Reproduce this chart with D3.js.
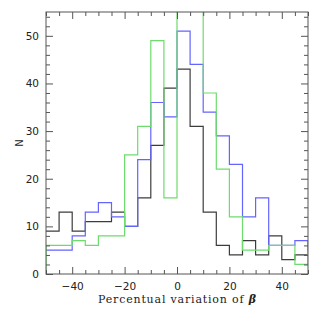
<!DOCTYPE html>
<html>
<head>
<meta charset="utf-8">
<script src="https://cdn.jsdelivr.net/npm/d3@7"></script>
<style>
  body { margin: 0; background: #fff; }
  svg { display: block; }
  .tick text { font-family: "DejaVu Sans", sans-serif; font-size: 10.5px; fill: #222; }
  .tick line { stroke: #555; }
</style>
</head>
<body>
<svg class="chart"></svg>
<script>
// bin left edges (one extra bin each side, clipped away by the frame)
var binStart = [-55, -50, -45, -40, -35, -30, -25, -20, -15, -10, -5, 0, 5, 10, 15, 20, 25, 30, 35, 40, 45, 50];
var binWidth = 5;

var blackCounts = [9, 9, 13, 9, 11, 11, 13, 10, 16, 27, 39, 43, 31, 13, 6, 4, 7, 4, 8, 3, 4, 4];
var blueCounts  = [5, 5, 5, 8, 13, 15, 12, 10, 24, 36, 33, 51, 44, 34, 29, 23, 12, 16, 6, 6, 7, 5];
var greenCounts = [0, 6, 6, 7, 6, 8, 8, 25, 31, 49, 16, 60, 60, 38, 22, 12, 5, 5, 6, 6, 2, 6];

var xMajor = [-40, -20, 0, 20, 40];
var xMinor = [-50, -45, -35, -30, -25, -15, -10, -5, 5, 10, 15, 25, 30, 35, 45, 50];
var yMajor = [0, 10, 20, 30, 40, 50];
var yMinor = [2, 4, 6, 8, 12, 14, 16, 18, 22, 24, 26, 28, 32, 34, 36, 38, 42, 44, 46, 48, 52, 54];

var width = 325, height = 316;
var margin = { left: 46, right: 17, top: 12, bottom: 42 };

var svg = d3.select(".chart")
    .attr("width", width)
    .attr("height", height);

var x = d3.scaleLinear().domain([-50, 50]).range([margin.left, width - margin.right]);
var y = d3.scaleLinear().domain([0, 55]).range([height - margin.bottom, margin.top]);

var plotLeft = x(-50), plotRight = x(50), plotTop = y(55), plotBottom = y(0);

svg.append("clipPath").attr("id", "plotclip")
  .append("rect")
    .attr("x", plotLeft).attr("y", plotTop)
    .attr("width", plotRight - plotLeft).attr("height", plotBottom - plotTop);

// histograms as steps
function stepPoints(counts) {
    var pts = binStart.map(function(b, i) { return [b, counts[i]]; });
    pts.push([binStart[binStart.length - 1] + binWidth, counts[counts.length - 1]]);
    return pts;
}

var line = d3.line()
    .x(function(d) { return x(d[0]); })
    .y(function(d) { return y(d[1]); })
    .curve(d3.curveStepAfter);

var series = [
    { counts: blackCounts, color: "#3c3c3c" },
    { counts: blueCounts, color: "#6464ff" },
    { counts: greenCounts, color: "#6ddc6d" }
];

var g = svg.append("g").attr("clip-path", "url(#plotclip)");
series.forEach(function(s) {
    g.append("path")
        .datum(stepPoints(s.counts))
        .attr("fill", "none")
        .attr("stroke", s.color)
        .attr("stroke-width", 1.2)
        .attr("d", line);
});

// axes, ticks pointing inwards on all four sides
function addAxis(axis, tx, ty) {
    var a = svg.append("g")
        .attr("transform", "translate(" + tx + "," + ty + ")")
        .call(axis);
    a.select(".domain").remove();
    return a;
}

var fmt = d3.format("d");

addAxis(d3.axisBottom(x).tickValues(xMajor).tickSize(-7).tickPadding(9).tickFormat(fmt), 0, plotBottom);
addAxis(d3.axisBottom(x).tickValues(xMinor).tickSize(-4).tickFormat(""), 0, plotBottom);
addAxis(d3.axisTop(x).tickValues(xMajor).tickSize(-7).tickFormat(""), 0, plotTop);
addAxis(d3.axisTop(x).tickValues(xMinor).tickSize(-4).tickFormat(""), 0, plotTop);

addAxis(d3.axisLeft(y).tickValues(yMajor).tickSize(-7).tickPadding(7).tickFormat(fmt), plotLeft, 0);
addAxis(d3.axisLeft(y).tickValues(yMinor).tickSize(-4).tickFormat(""), plotLeft, 0);
addAxis(d3.axisRight(y).tickValues(yMajor).tickSize(-7).tickFormat(""), plotRight, 0);
addAxis(d3.axisRight(y).tickValues(yMinor).tickSize(-4).tickFormat(""), plotRight, 0);

svg.append("rect")
    .attr("x", plotLeft).attr("y", plotTop)
    .attr("width", plotRight - plotLeft).attr("height", plotBottom - plotTop)
    .attr("fill", "none")
    .attr("stroke", "#555")
    .attr("stroke-width", 1);

// axis titles
var xt = svg.append("text")
    .attr("x", (plotLeft + plotRight) / 2)
    .attr("y", 303)
    .attr("text-anchor", "middle")
    .attr("textLength", 158)
    .attr("lengthAdjust", "spacing")
    .style("font-family", "'DejaVu Serif', serif")
    .style("font-size", "11px")
    .style("fill", "#222");
xt.append("tspan").text("Percentual variation of ");
xt.append("tspan").style("font-weight", "bold").style("font-style", "italic").text("β");

svg.append("text")
    .attr("transform", "translate(23," + ((plotTop + plotBottom) / 2) + ") rotate(-90)")
    .attr("text-anchor", "middle")
    .style("font-family", "'DejaVu Sans', sans-serif")
    .style("font-size", "10px")
    .style("fill", "#222")
    .text("N");
</script>
</body>
</html>
